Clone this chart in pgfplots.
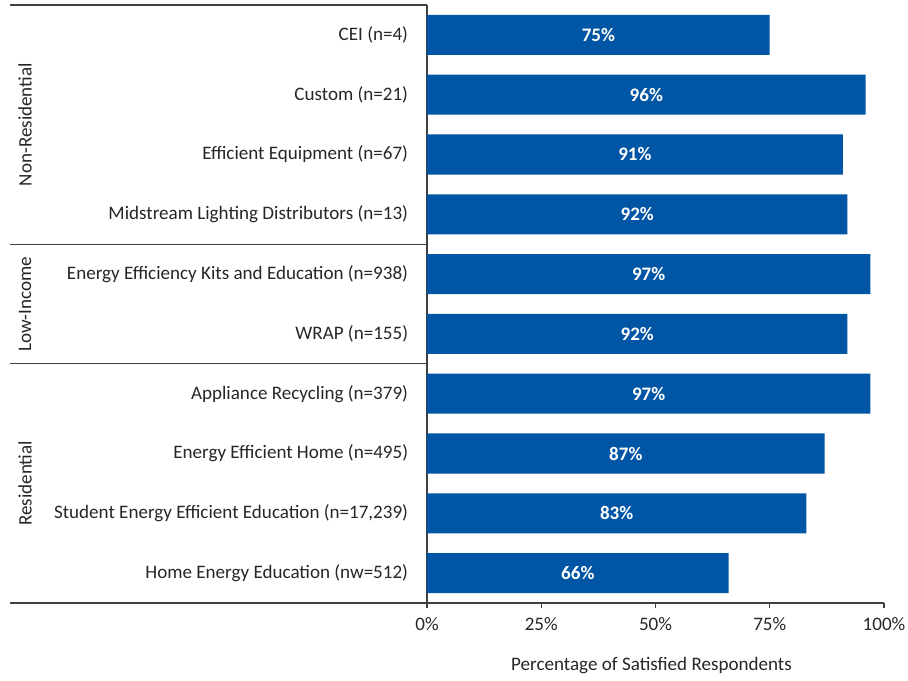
\documentclass[border=0pt]{standalone}
\usepackage{fontspec}
\setmainfont{Carlito}
\usepackage{pgfplots}
\pgfplotsset{compat=1.18}
\usepackage{pgfplotstable}
\definecolor{barblue}{HTML}{0055A5}
\definecolor{linegray}{HTML}{404040}
\definecolor{txt}{HTML}{262626}
\newcommand{\fs}{\fontsize{14.3}{16}\selectfont}
\pgfplotstableread{
pos val
0 75
1 96
2 91
3 92
4 97
5 92
6 97
7 87
8 83
9 66
}\satdata
\begin{document}
\fs
\begin{tikzpicture}
\useasboundingbox (-320.25pt,-58.5pt) rectangle (360.75pt,452.25pt);
\begin{axis}[
  at={(0,0)}, anchor=south west,
  scale only axis,
  width=342.75pt, height=448.5pt,
  /pgf/number format/assume math mode=true,
  xmin=0, xmax=100,
  ymin=-0.5, ymax=9.5,
  y dir=reverse,
  axis x line*=bottom, axis y line*=left,
  axis line style={linegray, -, line width=0.8pt},
  xtick={0,25,50,75,100},
  xticklabels={0\%,25\%,50\%,75\%,100\%},
  tick align=outside,
  major tick length=3.75pt,
  xtick style={linegray, line width=0.8pt},
  ytick={0,...,9},
  yticklabels={CEI (n=4),Custom (n=21),Efficient Equipment (n=67),Midstream Lighting Distributors (n=13),Energy Efficiency Kits and Education (n=938),WRAP (n=155),Appliance Recycling (n=379),Energy Efficient Home (n=495),{Student Energy Efficient Education (n=17,239)},Home Energy Education (nw=512)},
  ytick style={draw=none},
  yticklabel style={font=\fs, text=txt, anchor=east, xshift=-5.5pt},
  xticklabel style={font=\fs, text=txt, yshift=-2pt},
  xlabel={Percentage of Satisfied Respondents},
  every axis x label/.style={at={(axis description cs:0.5,0)}, anchor=center, yshift=-47.25pt, xshift=-3pt, font=\fs, text=txt},
  clip=false,
]
\addplot[xbar, fill=barblue, draw=none, bar width=0.67] table[x=val, y=pos] {\satdata};
\addplot[draw=none, mark=none, point meta=explicit,
  nodes near coords={\pgfmathprintnumber{\pgfplotspointmeta}\%},
  nodes near coords style={font=\fs\bfseries, text=white, anchor=center},
] table[x expr=\thisrow{val}/2, y=pos, meta=val] {\satdata};
\draw[linegray, line width=0.8pt] ([xshift=-312.75pt]axis cs:0,-0.5) -- (axis cs:0,-0.5);
\draw[linegray, line width=0.8pt] ([xshift=-312.75pt]axis cs:0,3.5) -- (axis cs:0,3.5);
\draw[linegray, line width=0.8pt] ([xshift=-312.75pt]axis cs:0,5.5) -- (axis cs:0,5.5);
\draw[linegray, line width=0.8pt] ([xshift=-312.75pt]axis cs:0,9.5) -- (axis cs:0,9.5);
\node[rotate=90, text=txt, font=\fs] at ([xshift=-301.5pt]axis cs:0,1.5) {Non-Residential};
\node[rotate=90, text=txt, font=\fs] at ([xshift=-301.5pt]axis cs:0,4.5) {Low-Income};
\node[rotate=90, text=txt, font=\fs] at ([xshift=-301.5pt]axis cs:0,7.5) {Residential};
\end{axis}
\end{tikzpicture}
\end{document}
